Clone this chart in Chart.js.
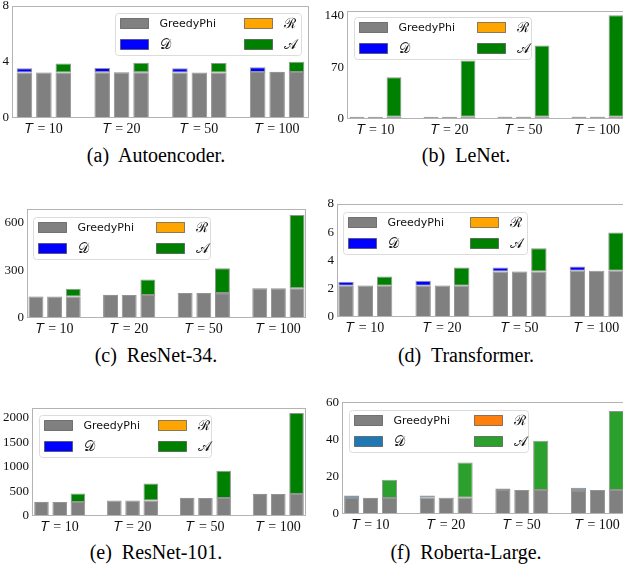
<!DOCTYPE html>
<html>
<head>
<meta charset="utf-8">
<script src="https://cdn.jsdelivr.net/npm/chart.js@4.4.0/dist/chart.umd.min.js"></script>
<style>
  html, body { margin: 0; padding: 0; background: #fff; width: 623px; height: 571px; overflow: hidden; }
  body { position: relative; }
  canvas { position: absolute; }
  .cap { position: absolute; width: 300px; text-align: center; font-family: 'Liberation Serif', serif; font-size: 20px; line-height: 20px; white-space: pre; color: #000; }
</style>
</head>
<body>
<canvas id="c_ae"></canvas>
<canvas id="c_lenet"></canvas>
<canvas id="c_r34"></canvas>
<canvas id="c_tr"></canvas>
<canvas id="c_r101"></canvas>
<canvas id="c_rob"></canvas>
<div class="cap" style="left:6px;top:145px">(a)  Autoencoder.</div>
<div class="cap" style="left:316px;top:145px">(b)  LeNet.</div>
<div class="cap" style="left:6px;top:345px">(c)  ResNet-34.</div>
<div class="cap" style="left:316px;top:345px">(d)  Transformer.</div>
<div class="cap" style="left:6px;top:542px">(e)  ResNet-101.</div>
<div class="cap" style="left:316px;top:542px">(f)  Roberta-Large.</div>
<script>
// categories
const groups = ['𝑇 = 10', '𝑇 = 20', '𝑇 = 50', '𝑇 = 100']
const legendNames = ['GreedyPhi', '𝒟', 'ℛ', '𝒜']

// (a) Autoencoder
const aeGreedy = [3.25, 3.27, 3.25, 3.28]
const aeD = [0.30, 0.30, 0.30, 0.34]
const aeR = [0.02, 0.02, 0.0, 0.02]
const aeA = [0.65, 0.68, 0.68, 0.74]
const aeTicks = [0, 4, 8]

// (b) LeNet
const lnGreedy = [3.0, 3.0, 3.2, 3.2]
const lnD = [0.2, 0.2, 0.2, 0.2]
const lnR = [0.1, 0.0, 0.1, 0.1]
const lnA = [53.5, 76, 96, 137]
const lnTicks = [0, 70, 140]

// (c) ResNet-34
const r34Greedy = [135, 144, 156, 187]
const r34D = [1, 1, 1, 1]
const r34R = [0, 0, 0, 0]
const r34A = [48, 97, 156, 458]
const r34Ticks = [0, 300, 600]

// (d) Transformer
const trGreedy = [2.21, 2.22, 3.22, 3.27]
const trD = [0.29, 0.35, 0.28, 0.31]
const trR = [0.04, 0.03, 0.02, 0.0]
const trA = [0.66, 1.28, 1.65, 2.71]
const trTicks = [0, 2, 4, 6, 8]

// (e) ResNet-101
const r101Greedy = [286, 314, 367, 449]
const r101D = [2, 2, 2, 2]
const r101R = [0, 0, 0, 0]
const r101A = [171, 347, 551, 1641]
const r101Ticks = [0, 500, 1000, 1500, 2000]

// (f) Roberta-Large
const robGreedy = [8.7, 8.8, 12.9, 12.9]
const robD = [1.3, 1.2, 0.9, 1.3]
const robR = [0.1, 0.1, 0.0, 0.0]
const robA = [9.8, 19.0, 26.7, 42.7]
const robTicks = [0, 20, 40, 60]

const basic = { gray: '#808080', d: '#0000ff', r: '#ffa500', a: '#008000' }
const tab = { gray: '#808080', d: '#1f77b4', r: '#ff7f0e', a: '#2ca02c' }

// frame + legend box drawn inside the plot area
const boxPlugin = {
  id: 'boxLegend',
  afterDatasetsDraw(chart, args, opts) {
    const { ctx, chartArea: c } = chart
    ctx.save()
    ctx.strokeStyle = '#b3b3b3'
    ctx.lineWidth = 1
    ctx.strokeRect(c.left + 0.5, c.top + 0.5, c.right - c.left - 1, c.bottom - c.top - 1)

    const items = chart.data.datasets.filter(ds => ds.inLegend)
    const w = opts.w, h = 42
    const x = Math.round(opts.anchor === 'right' ? c.right - opts.dx - w : c.left + opts.dx) + 0.5
    const y = Math.round(c.top + opts.dy) + 0.5
    ctx.beginPath()
    ctx.roundRect(x, y, w, h, 3)
    ctx.fillStyle = 'rgba(255,255,255,0.85)'
    ctx.fill()
    ctx.strokeStyle = '#dcdcdc'
    ctx.stroke()
    items.forEach((ds, i) => {
      const col = Math.floor(i / 2), row = i % 2
      const hx = x + 5 + col * opts.col2
      const hy = y + 5 + row * 21
      ctx.fillStyle = ds.backgroundColor
      ctx.fillRect(hx, hy, 28, 10)
      ctx.strokeStyle = 'rgba(60,60,60,0.6)'
      ctx.strokeRect(hx, hy, 28, 10)
      ctx.fillStyle = '#111'
      ctx.textBaseline = 'middle'
      ctx.font = ds.label === 'GreedyPhi' ? '11px "DejaVu Sans"' : '14px "DejaVu Serif"'
      ctx.fillText(ds.label, hx + 39, hy + 5.5)
    })
    ctx.restore()
  }
}

function makeChart(id, box, xlim, ymax, ticks, greedy, d, r, a, colors, legend) {
  const canvasX = box.L < 312 ? 0 : 312
  const width = canvasX === 0 ? 312 : box.R - 312 + 4
  const el = document.getElementById(id)
  el.width = width
  el.height = (box.B - box.T) + 8 + 20
  el.style.left = canvasX + 'px'
  el.style.top = (box.T - 8) + 'px'
  const wY = box.L - canvasX

  const pts = vals => vals.map((v, i) => ({ x: i, y: v }))
  const bar = (label, vals, color, stack, inLegend) => ({
    label, data: pts(vals), stack, inLegend,
    backgroundColor: color,
    borderColor: 'rgba(60,60,60,0.55)',
    borderWidth: 1,
    borderSkipped: false,
    categoryPercentage: 0.75,
    barPercentage: 0.8
  })

  return new Chart(el, {
    type: 'bar',
    data: {
      datasets: [
        bar(legendNames[0], greedy, colors.gray, 'd', true),
        bar(legendNames[1], d, colors.d, 'd', true),
        bar(legendNames[0], greedy, colors.gray, 'r', false),
        bar(legendNames[2], r, colors.r, 'r', true),
        bar(legendNames[0], greedy, colors.gray, 'a', false),
        bar(legendNames[3], a, colors.a, 'a', true)
      ]
    },
    options: {
      responsive: false,
      animation: false,
      layout: { padding: { left: 0, top: 8, right: width - (box.R - canvasX), bottom: 0 } },
      plugins: { legend: { display: false }, tooltip: { enabled: false }, boxLegend: legend },
      scales: {
        x: {
          type: 'linear', offset: false,
          min: xlim[0], max: xlim[1],
          afterBuildTicks: s => { s.ticks = groups.map((g, i) => ({ value: i })) },
          afterFit: s => { s.height = 20; s.paddingLeft = 0; s.paddingRight = 0 },
          grid: { display: false, drawTicks: false },
          border: { display: false },
          ticks: {
            padding: 3, maxRotation: 0, autoSkip: false,
            color: '#111', font: { family: '"Liberation Serif"', size: 14 },
            callback: v => groups[v]
          }
        },
        y: {
          stacked: true,
          min: 0, max: ymax,
          afterBuildTicks: s => { s.ticks = ticks.map(v => ({ value: v })) },
          afterFit: s => { s.width = wY; s.paddingTop = 0; s.paddingBottom = 0 },
          grid: { display: false, drawTicks: false },
          border: { display: false },
          ticks: {
            padding: 3, color: '#111', font: { family: '"Liberation Serif"', size: 13 },
            callback: v => String(v)
          }
        }
      }
    },
    plugins: [boxPlugin]
  })
}

makeChart('c_ae', { L: 12, R: 309, T: 6, B: 118 }, [-0.41, 3.41], 8, aeTicks,
  aeGreedy, aeD, aeR, aeA, basic, { anchor: 'right', dx: 8, dy: 7, w: 186, col2: 124 })
makeChart('c_lenet', { L: 347, R: 626, T: 11, B: 119 }, [-0.385, 3.385], 146, lnTicks,
  lnGreedy, lnD, lnR, lnA, basic, { anchor: 'left', dx: 7, dy: 6, w: 177, col2: 118 })
makeChart('c_r34', { L: 27, R: 306, T: 209, B: 318 }, [-0.37, 3.37], 683, r34Ticks,
  r34Greedy, r34D, r34R, r34A, basic, { anchor: 'left', dx: 6, dy: 8, w: 177, col2: 118 })
makeChart('c_tr', { L: 337, R: 625, T: 204, B: 317 }, [-0.367, 3.367], 8, trTicks,
  trGreedy, trD, trR, trA, basic, { anchor: 'left', dx: 6, dy: 8, w: 184, col2: 122 })
makeChart('c_r101', { L: 32, R: 306, T: 408, B: 516 }, [-0.38, 3.38], 2192, r101Ticks,
  r101Greedy, r101D, r101R, r101A, basic, { anchor: 'left', dx: 7, dy: 7, w: 172, col2: 114 })
makeChart('c_rob', { L: 342, R: 626, T: 402, B: 514 }, [-0.378, 3.378], 60.5, robTicks,
  robGreedy, robD, robR, robA, tab, { anchor: 'left', dx: 7, dy: 8, w: 179, col2: 120 })
</script>
</body>
</html>
